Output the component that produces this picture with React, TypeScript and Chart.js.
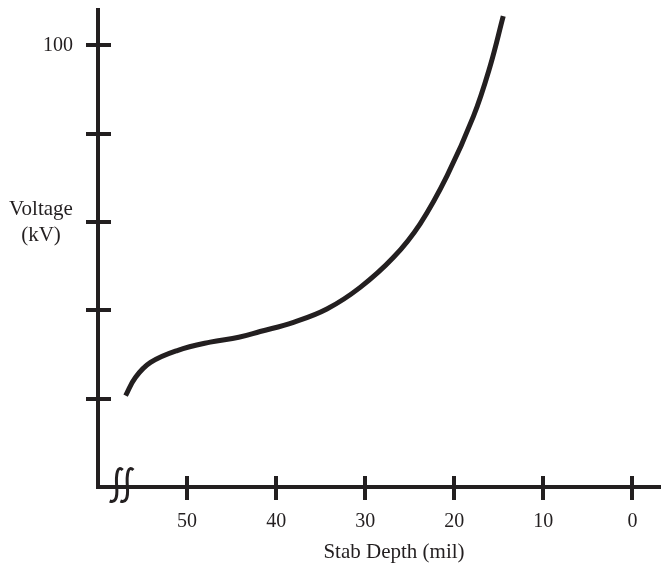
import React, { useEffect, useRef } from "react";
import { Chart, registerables } from "chart.js";

Chart.register(...registerables);

// Data
const depthMil = [56.9, 55.8, 54.1, 51.1, 47.4, 44.2, 41.8, 38.05, 34.3, 30.56, 26.82, 23.83, 20.8, 17.85, 16.0, 14.5];
const voltageKV = [20.7, 24.8, 28.2, 30.9, 32.8, 33.9, 35.2, 37.3, 40.3, 45.2, 52.0, 59.6, 70.5, 83.9, 95.1, 106.6];
const xTicks = [50, 40, 30, 20, 10, 0];
const yTicks = [20, 40, 60, 80, 100];
const yTickLabels = ["", "", "", "", "100"];
const xTitle = "Stab Depth (mil)";
const yTitleLines = ["Voltage", "(kV)"];

const INK = "#231f20";
const FONT = "Liberation Serif, 'Times New Roman', serif";

const decorPlugin = {
  id: "decor",
  afterDraw(chart: any) {
    const { ctx, chartArea, scales } = chart;
    const xs = scales.x;
    const ys = scales.y;
    ctx.save();
    ctx.strokeStyle = INK;
    ctx.lineWidth = 4;
    ctx.lineCap = "butt";
    // crossing tick marks
    yTicks.forEach((v) => {
      const py = Math.round(ys.getPixelForValue(v));
      ctx.beginPath();
      ctx.moveTo(chartArea.left - 12, py);
      ctx.lineTo(chartArea.left + 13, py);
      ctx.stroke();
    });
    xTicks.forEach((v) => {
      const px = Math.round(xs.getPixelForValue(v));
      ctx.beginPath();
      ctx.moveTo(px, chartArea.bottom - 11);
      ctx.lineTo(px, chartArea.bottom + 13);
      ctx.stroke();
    });
    // corner fill
    ctx.fillStyle = INK;
    ctx.fillRect(chartArea.left - 2, chartArea.bottom - 2, 4, 4);
    // axis break mark
    ctx.lineWidth = 3;
    const by = chartArea.bottom;
    [57.9, 56.7].forEach((v) => {
      const cx = xs.getPixelForValue(v);
      ctx.beginPath();
      ctx.moveTo(cx + 6, by - 17);
      ctx.bezierCurveTo(cx + 1, by - 22, cx - 1, by - 14, cx, by);
      ctx.bezierCurveTo(cx + 1, by + 12, cx - 2, by + 16, cx - 7, by + 14);
      ctx.stroke();
    });
    // titles
    ctx.fillStyle = INK;
    ctx.font = `21px ${FONT}`;
    ctx.textAlign = "center";
    ctx.textBaseline = "alphabetic";
    ctx.fillText(yTitleLines[0], 41, 215);
    ctx.fillText(yTitleLines[1], 41, 241);
    ctx.fillText(xTitle, 394, 558);
    ctx.restore();
  },
};

export default function App() {
  const ref = useRef<HTMLCanvasElement | null>(null);
  useEffect(() => {
    if (!ref.current) return;
    const chart = new Chart(ref.current, {
      type: "scatter",
      data: {
        datasets: [
          {
            data: depthMil.map((x, i) => ({ x, y: voltageKV[i] })),
            showLine: true,
            borderColor: INK,
            borderWidth: 5,
            pointRadius: 0,
            tension: 0.4,
            borderCapStyle: "butt",
            borderJoinStyle: "round",
          },
        ],
      },
      options: {
        animation: false,
        responsive: false,
        maintainAspectRatio: false,
        layout: { padding: { top: 10, right: 1, left: 0, bottom: 0 } },
        plugins: { legend: { display: false }, tooltip: { enabled: false } },
        scales: {
          x: {
            type: "linear",
            reverse: true,
            min: -3.1,
            max: 60,
            grid: { display: false, drawTicks: false },
            border: { display: true, color: INK, width: 4 },
            afterBuildTicks: (s: any) => {
              s.ticks = xTicks.map((v) => ({ value: v }));
            },
            afterFit: (s: any) => {
              s.height = 80;
              s.paddingLeft = 0;
              s.paddingRight = 0;
            },
            ticks: {
              color: INK,
              padding: 23,
              font: { family: FONT, size: 20 },
              maxRotation: 0,
              autoSkip: false,
              callback: (v: any) => String(v),
            },
          },
          y: {
            type: "linear",
            min: 0,
            max: 108,
            grid: { display: false, drawTicks: false },
            border: { display: true, color: INK, width: 4 },
            afterBuildTicks: (s: any) => {
              s.ticks = yTicks.map((v) => ({ value: v }));
            },
            afterFit: (s: any) => {
              s.width = 98;
              s.paddingTop = 0;
              s.paddingBottom = 0;
            },
            ticks: {
              color: INK,
              padding: 25,
              font: { family: FONT, size: 20 },
              autoSkip: false,
              callback: (v: any) => {
                const i = yTicks.indexOf(Number(v));
                return i >= 0 ? yTickLabels[i] : "";
              },
            },
          },
        },
      },
      plugins: [decorPlugin],
    });
    return () => chart.destroy();
  }, []);
  return (
    <div style={{ position: "fixed", left: 0, top: 0, width: 661, height: 567, background: "#fff" }}>
      <canvas ref={ref} width={661} height={567} style={{ width: 661, height: 567, display: "block" }} />
    </div>
  );
}
